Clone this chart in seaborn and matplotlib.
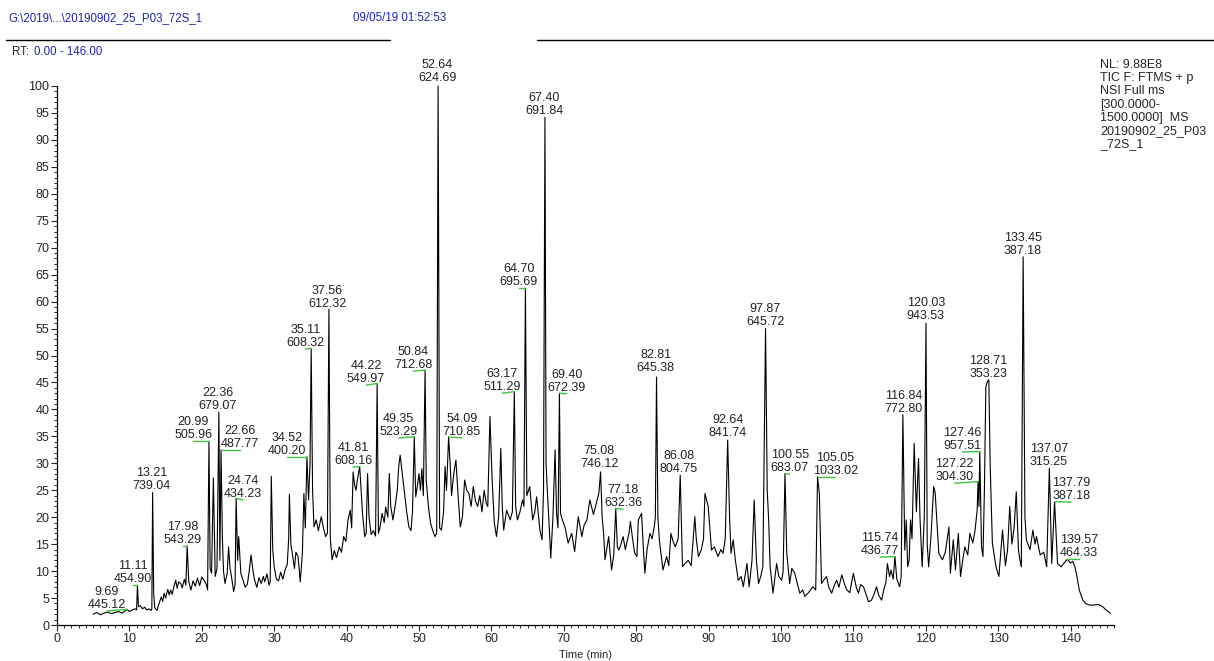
import matplotlib
matplotlib.use("Agg")
import matplotlib.pyplot as plt
from matplotlib.ticker import MultipleLocator
import seaborn as sns
import pandas as pd

# TIC trace (RT in min, relative abundance in %)
rt = [
    5.0, 5.5, 6.0, 6.5, 7.0, 7.5, 8.0, 8.5, 9.0, 9.4, 9.69, 10.0, 10.4, 10.8, 11.0,
    11.11, 11.25, 11.5, 11.8, 12.1, 12.4, 12.7, 13.0, 13.1, 13.21, 13.35, 13.5, 13.8,
    14.1, 14.4, 14.6, 14.8, 15.0, 15.3, 15.5, 15.7, 15.9, 16.2, 16.4, 16.6, 16.8, 17.1,
    17.3, 17.6, 17.8, 17.98, 18.2, 18.5, 18.8, 19.1, 19.4, 19.7, 20.0, 20.3, 20.6, 20.8,
    20.99, 21.15, 21.35, 21.6, 21.85, 22.1, 22.36, 22.5, 22.66, 22.85, 23.0, 23.2, 23.5,
    23.7, 23.9, 24.1, 24.4, 24.6, 24.74, 24.95, 25.1, 25.4, 25.7, 26.0, 26.3, 26.6, 26.8,
    27.1, 27.3, 27.6, 27.9, 28.2, 28.5, 28.7, 29.0, 29.3, 29.45, 29.6, 29.8, 30.0, 30.3,
    30.6, 30.9, 31.2, 31.5, 31.8, 32.0, 32.1, 32.3, 32.5, 32.8, 33.0, 33.3, 33.6, 33.9,
    34.1, 34.3, 34.52, 34.75, 34.95, 35.11, 35.3, 35.5, 35.8, 36.1, 36.5, 36.8, 37.1,
    37.35, 37.56, 37.75, 38.0, 38.3, 38.6, 39.0, 39.3, 39.6, 39.9, 40.2, 40.5, 40.7,
    40.9, 41.1, 41.3, 41.5, 41.81, 42.0, 42.2, 42.5, 42.7, 42.9, 43.1, 43.4, 43.7, 44.0,
    44.22, 44.4, 44.6, 44.9, 45.2, 45.4, 45.7, 45.9, 46.1, 46.4, 46.7, 47.0, 47.2, 47.4,
    47.7, 48.0, 48.3, 48.6, 48.9, 49.1, 49.35, 49.55, 49.8, 50.0, 50.2, 50.4, 50.6,
    50.84, 51.0, 51.3, 51.6, 51.9, 52.2, 52.45, 52.64, 52.85, 53.1, 53.4, 53.6, 53.8,
    54.09, 54.3, 54.5, 54.8, 55.1, 55.4, 55.7, 56.0, 56.3, 56.6, 56.9, 57.2, 57.5, 57.8,
    58.1, 58.4, 58.7, 59.0, 59.3, 59.5, 59.65, 59.8, 60.1, 60.4, 60.7, 61.0, 61.3, 61.5,
    61.7, 62.1, 62.6, 62.9, 63.17, 63.35, 63.6, 63.95, 64.3, 64.5, 64.7, 64.9, 65.3,
    65.7, 66.0, 66.25, 66.7, 67.0, 67.2, 67.4, 67.55, 67.7, 68.0, 68.2, 68.5, 68.8, 69.0,
    69.2, 69.4, 69.55, 69.8, 70.2, 70.6, 71.1, 71.5, 72.0, 72.5, 72.8, 73.2, 73.6, 74.1,
    74.6, 74.85, 75.08, 75.3, 75.5, 75.7, 76.2, 76.6, 76.9, 77.18, 77.4, 77.6, 77.9,
    78.2, 78.5, 78.7, 79.0, 79.2, 79.5, 79.8, 80.1, 80.3, 80.75, 81.0, 81.2, 81.5, 81.9,
    82.2, 82.5, 82.65, 82.81, 83.0, 83.2, 83.7, 84.2, 84.5, 84.8, 85.1, 85.4, 85.8,
    86.08, 86.4, 86.8, 87.2, 87.6, 88.1, 88.3, 88.6, 89.0, 89.3, 89.5, 89.95, 90.4, 90.8,
    91.3, 91.7, 92.0, 92.3, 92.64, 92.9, 93.1, 93.4, 93.7, 94.1, 94.5, 94.8, 95.3, 95.6,
    96.0, 96.3, 96.6, 96.9, 97.2, 97.5, 97.87, 98.1, 98.3, 98.5, 98.9, 99.4, 99.7, 100.1,
    100.3, 100.55, 100.8, 101.2, 101.5, 101.9, 102.2, 102.6, 103.0, 103.3, 103.8, 104.4,
    104.8, 105.05, 105.3, 105.6, 106.0, 106.3, 106.6, 107.0, 107.4, 107.7, 108.0, 108.4,
    108.8, 109.1, 109.5, 110.0, 110.4, 110.7, 111.0, 111.4, 111.8, 112.1, 112.5, 112.8,
    113.2, 113.5, 113.9, 114.2, 114.5, 114.7, 115.0, 115.2, 115.5, 115.74, 116.0, 116.4,
    116.6, 116.84, 117.1, 117.3, 117.5, 117.7, 117.9, 118.1, 118.4, 118.7, 119.0, 119.2,
    119.5, 119.8, 120.03, 120.2, 120.4, 120.7, 121.1, 121.3, 121.8, 122.3, 122.7, 123.2,
    123.4, 123.8, 124.1, 124.5, 124.8, 125.1, 125.4, 125.8, 126.1, 126.5, 126.8, 127.1,
    127.22, 127.35, 127.46, 127.7, 127.9, 128.1, 128.3, 128.5, 128.71, 128.9, 129.2,
    129.7, 130.1, 130.6, 131.0, 131.3, 131.6, 131.9, 132.2, 132.5, 132.8, 133.0, 133.2,
    133.45, 133.7, 133.9, 134.4, 134.8, 135.1, 135.3, 135.8, 136.3, 136.7, 137.07, 137.4,
    137.79, 138.2, 138.7, 139.1, 139.57, 140.0, 140.3, 140.6, 140.8, 141.2, 141.7, 142.1,
    142.6, 143.2, 143.8, 144.2, 144.6, 144.9, 145.5,
]
rel_abund = [
    2.0, 2.3, 1.9, 2.2, 2.4, 2.1, 2.3, 2.5, 2.2, 2.6, 2.9, 2.5, 2.8, 3.0, 2.8,
    7.4, 3.4, 3.6, 3.0, 3.3, 2.8, 3.0, 2.7, 3.0, 24.6, 6.0, 3.2, 2.7,
    4.0, 5.2, 4.4, 5.9, 5.0, 6.6, 5.6, 6.5, 5.7, 7.4, 8.3, 6.8, 8.0, 7.7,
    6.9, 8.5, 7.4, 14.7, 8.0, 6.5, 8.2, 7.2, 8.7, 7.3, 8.9, 8.3, 7.6, 6.5,
    34.1, 10.5, 9.6, 27.3, 9.0, 10.5, 39.5, 12.0, 32.5, 15.8, 10.0, 7.7, 9.5,
    14.5, 10.5, 9.0, 6.2, 7.5, 23.5, 12.0, 16.4, 9.5, 8.3, 7.0, 7.6, 10.5, 13.0,
    9.8, 8.3, 7.0, 8.8, 7.7, 9.0, 8.0, 9.5, 7.4, 8.0, 27.6, 14.0, 10.8, 8.5,
    8.2, 9.8, 8.5, 10.2, 11.2, 16.0, 24.3, 15.0, 13.3, 10.5, 13.5, 12.7, 8.0, 13.5,
    24.4, 18.0, 31.2, 23.2, 30.0, 51.3, 25.0, 18.2, 19.5, 17.5, 20.1, 18.0, 16.4,
    17.0, 58.6, 16.0, 12.1, 13.8, 12.5, 14.5, 13.5, 16.4, 15.5, 19.5, 21.3, 18.0,
    28.4, 26.0, 25.0, 27.0, 29.4, 25.0, 20.7, 16.4, 17.0, 28.1, 20.0, 16.8, 17.5, 16.5,
    44.8, 17.0, 18.0, 20.7, 19.0, 21.9, 20.0, 28.1, 22.0, 19.5, 22.0, 25.0, 29.4, 31.5,
    28.0, 24.4, 21.0, 18.2, 17.5, 21.0, 34.9, 23.8, 26.0, 28.1, 25.0, 29.0, 24.0,
    47.3, 26.9, 22.0, 18.9, 17.5, 16.4, 17.0, 100.0, 18.0, 17.6, 21.0, 29.4, 25.0,
    34.9, 30.0, 24.0, 28.1, 30.6, 24.0, 18.2, 20.0, 26.9, 25.0, 24.4, 22.0, 25.7, 23.0,
    22.0, 24.0, 21.0, 25.0, 22.5, 22.0, 30.0, 38.7, 27.0, 19.0, 16.4, 20.0, 32.8, 22.0,
    17.6, 21.3, 19.5, 21.0, 43.3, 22.0, 19.5, 21.0, 23.2, 22.0, 62.5, 24.0, 25.7,
    19.5, 21.0, 23.8, 17.6, 15.8, 25.0, 94.2, 30.0, 25.7, 18.0, 12.4, 20.0, 32.5, 20.7,
    18.0, 43.0, 20.7, 19.5, 18.0, 15.2, 17.0, 13.6, 20.1, 16.4, 18.5, 19.5, 23.2, 20.5,
    23.2, 24.5, 28.4, 20.0, 17.0, 12.1, 16.4, 10.2, 13.0, 21.6, 14.5, 13.9, 15.0,
    16.4, 14.0, 15.2, 17.0, 19.2, 16.0, 13.3, 12.7, 19.5, 20.7, 14.0, 9.6, 14.0, 17.0,
    16.0, 18.2, 20.0, 46.0, 20.0, 15.8, 10.2, 12.7, 11.0, 17.0, 15.5, 14.5, 16.0,
    27.8, 10.8, 11.5, 12.0, 11.0, 20.1, 16.0, 12.7, 14.0, 16.0, 24.4, 22.0, 13.9, 14.5,
    12.7, 14.0, 13.3, 16.0, 34.3, 20.0, 13.3, 15.8, 12.0, 8.3, 9.0, 7.1, 11.4, 7.1,
    12.0, 23.2, 12.0, 7.7, 9.0, 10.8, 55.0, 25.0, 19.5, 10.8, 5.9, 11.4, 9.0, 8.3,
    10.0, 28.1, 13.3, 7.7, 10.5, 9.6, 8.0, 5.9, 6.5, 5.3, 6.0, 7.1,
    6.5, 27.5, 24.4, 7.7, 8.5, 9.0, 7.0, 5.9, 7.5, 8.3, 7.0, 9.3,
    7.5, 6.5, 6.0, 9.6, 7.0, 5.9, 7.5, 7.1, 5.5, 4.3, 4.6, 5.5,
    7.1, 5.5, 4.6, 6.5, 8.0, 11.4, 9.0, 10.2, 8.5, 12.7, 8.5, 7.1,
    9.0, 39.0, 13.9, 19.5, 10.8, 12.0, 19.5, 16.0, 33.7, 21.0, 30.9, 20.0,
    10.8, 20.1, 56.0, 15.0, 10.8, 16.0, 25.7, 24.5, 13.3, 12.1, 13.5, 18.2,
    9.6, 15.8, 10.2, 17.0, 9.0, 12.0, 14.5, 13.0, 17.0, 15.2, 17.5, 21.3,
    26.6, 22.0, 32.2, 14.5, 12.7, 25.0, 44.2, 45.1, 45.5, 29.4, 15.2,
    10.8, 9.0, 17.6, 11.0, 14.0, 22.0, 15.0, 18.0, 24.7, 14.0, 12.1, 10.8,
    68.3, 20.0, 15.8, 14.0, 17.6, 15.0, 16.4, 13.0, 13.5, 10.8, 29.1, 11.4,
    22.9, 11.4, 10.8, 11.5, 12.2, 11.5, 11.8, 10.8, 9.6, 6.5, 4.6, 4.0,
    3.7, 3.7, 3.8, 3.6, 3.2, 2.8, 2.2,
]

# labelled peaks: retention time and base peak m/z
peak_rt = [9.69, 11.11, 13.21, 17.98, 20.99, 22.36, 22.66, 24.74, 34.52, 35.11,
           37.56, 41.81, 44.22, 49.35, 50.84, 52.64, 54.09, 63.17, 64.70, 67.40,
           69.40, 75.08, 77.18, 82.81, 86.08, 92.64, 97.87, 100.55, 105.05, 115.74,
           116.84, 120.03, 127.46, 127.22, 128.71, 133.45, 137.07, 137.79, 139.57]
peak_mz = [445.12, 454.90, 739.04, 543.29, 505.96, 679.07, 487.77, 434.23, 400.20, 608.32,
           612.32, 608.16, 549.97, 523.29, 712.68, 624.69, 710.85, 511.29, 695.69, 691.84,
           672.39, 746.12, 632.36, 645.38, 804.75, 841.74, 645.72, 683.07, 1033.02, 436.77,
           772.80, 943.53, 957.51, 304.30, 353.23, 387.18, 315.25, 387.18, 464.33]

# where each label sits (text centre rt, text bottom %), and whether a leader is drawn
label_x = [6.9, 10.5, 13.1, 17.4, 18.8, 22.2, 25.3, 25.7, 31.8, 34.3,
           37.3, 40.9, 42.7, 47.2, 49.2, 52.5, 55.9, 61.5, 63.8, 67.3,
           70.4, 74.9, 78.2, 82.7, 85.9, 92.7, 97.8, 101.2, 107.5, 113.7,
           116.9, 120.0, 125.1, 124.0, 128.6, 133.4, 137.0, 140.1, 141.2]
label_y = [2.6, 7.4, 24.7, 14.7, 34.1, 39.5, 32.5, 23.2, 31.2, 51.2,
           58.4, 29.3, 44.5, 34.7, 47.1, 100.3, 34.7, 43.0, 62.5, 94.2,
           42.9, 28.8, 21.5, 46.6, 27.8, 34.5, 55.1, 28.0, 27.5, 12.6,
           39.0, 56.2, 32.1, 26.3, 45.5, 68.3, 29.1, 22.8, 12.2]
leader = [1, 1, 0, 1, 1, 0, 1, 1, 1, 1,
          0, 1, 1, 1, 1, 0, 1, 1, 1, 0,
          1, 0, 1, 0, 0, 0, 0, 1, 1, 1,
          0, 0, 1, 1, 0, 0, 0, 1, 1]

blue = "#2323a8"

sns.set_style("ticks")
plt.rcParams["font.family"] = ["Liberation Sans", "DejaVu Sans"]
plt.rcParams["font.size"] = 9

fig = plt.figure(figsize=(12.14, 6.61), dpi=100)
ax = fig.add_axes([57 / 1214, 36 / 661, 1057 / 1214, 539 / 661])

df = pd.DataFrame({"rt": rt, "ra": rel_abund})
sns.lineplot(data=df, x="rt", y="ra", ax=ax, color="black", lw=0.8,
             estimator=None, sort=False)
for ln in ax.lines:
    ln.set_clip_on(False)

apex = dict(zip(rt, rel_abund))
for t, mz, lx, ly, g in zip(peak_rt, peak_mz, label_x, label_y, leader):
    if g:
        ax.plot([lx, t], [ly, apex[t]], color="#3ec43e", lw=1.0, clip_on=False)
    ax.text(lx, ly, f"{t:.2f}\n{mz:.2f}", ha="center", va="bottom",
            fontsize=9, linespacing=1.1, color="#222222")

ax.set_xlim(0, 146)
ax.set_ylim(0, 100)
ax.xaxis.set_major_locator(MultipleLocator(10))
ax.xaxis.set_minor_locator(MultipleLocator(1))
ax.yaxis.set_major_locator(MultipleLocator(5))
ax.yaxis.set_minor_locator(MultipleLocator(1))
ax.tick_params(which="major", direction="out", length=4, width=0.8, labelsize=9, pad=1.5)
ax.tick_params(which="minor", direction="out", length=2, width=0.7)
sns.despine(ax=ax)
for s in ("left", "bottom"):
    ax.spines[s].set_linewidth(0.9)
    ax.spines[s].set_color("black")
ax.set_xlabel("Time (min)", fontsize=8, labelpad=4)
ax.set_ylabel("")

# header
fig.text(8 / 1214, 1 - 18 / 661, "G:\\2019\\...\\20190902_25_P03_72S_1", color=blue,
         fontsize=8.3, va="center")
fig.text(353 / 1214, 1 - 18 / 661, "09/05/19 01:52:53", color=blue, fontsize=8.3, va="center")
fig.add_artist(plt.Line2D([6 / 1214, 390 / 1214], [1 - 40 / 661] * 2, color="black", lw=1))
fig.add_artist(plt.Line2D([537 / 1214, 1.0], [1 - 40 / 661] * 2, color="black", lw=1))
fig.text(12 / 1214, 1 - 52 / 661, "RT: ", fontsize=8.3, va="center")
fig.text(34 / 1214, 1 - 52 / 661, "0.00 - 146.00", color=blue, fontsize=8.3, va="center")

fig.text(1100 / 1214, 1 - 59 / 661,
         "NL: 9.88E8\nTIC F: FTMS + p\nNSI Full ms\n[300.0000-\n1500.0000]  MS\n"
         "20190902_25_P03\n_72S_1",
         fontsize=9, va="top", ha="left", linespacing=1.13)

fig.savefig("out.png", dpi=100)
